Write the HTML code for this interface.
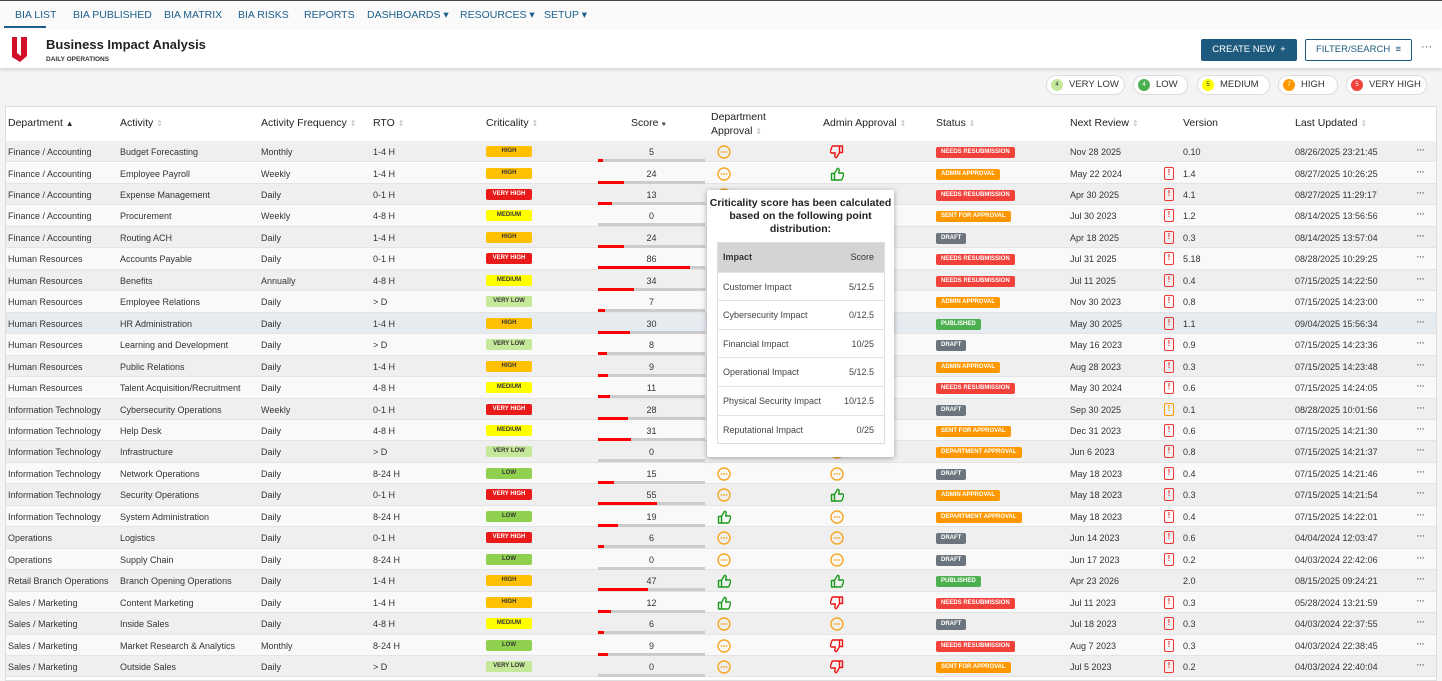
<!DOCTYPE html>
<html><head><meta charset="utf-8"><style>
*{box-sizing:border-box;margin:0;padding:0}
body{width:1442px;height:681px;overflow:hidden;background:#f4f4f4;font-family:"Liberation Sans",sans-serif;color:#333;position:relative}
.a{position:absolute;white-space:nowrap}
.nav{position:absolute;left:0;top:0;width:1442px;height:29px;background:#fafafa;border-top:1px solid #444}
.nav span{position:absolute;top:8px;font-size:10.5px;color:#1d5f8c}
.hdr{position:absolute;left:0;top:29px;width:1442px;height:39px;background:#fff;box-shadow:0 2px 3px rgba(0,0,0,.12)}
.pill{position:absolute;top:75px;height:20px;border:1px solid #ddd;border-radius:10px;background:#fff;font-size:9.5px;color:#333;line-height:18px}
.pill i{position:absolute;left:4px;top:3px;width:12px;height:12px;border-radius:6px;font-style:normal;font-size:6px;line-height:12px;text-align:center;color:#333}
.pill b{position:absolute;left:22px;font-weight:normal}
.tbl{position:absolute;left:5px;top:106px;width:1432px;height:575px;background:#fff;border:1px solid #ddd}
.th{position:absolute;top:117px;font-size:10.5px;color:#222}
.th s{text-decoration:none;color:#bbb;font-size:8px}
.r{position:absolute;left:6px;width:1430px;height:21.46px;font-size:9px;color:#333;border-bottom:1px solid #e4e4e4}
.r.o{background:#efefef}.r.e{background:#f9f9f9}.r.h{background:#e6ebf0}
.r div{position:absolute;top:6px;white-space:nowrap}
.c1{left:2px}.c2{left:114px}.c3{left:255px}.c4{left:367px}
.cr{left:480px;width:46px;height:11px;top:5px!important;border-radius:2px;font-size:6px;text-align:center;line-height:11px;font-weight:bold}
.HI{background:#ffc000;color:#333}.VH{background:#e81a1a;color:#fff}.ME{background:#ffff00;color:#333}.VL{background:#c6e89a;color:#333}.LO{background:#8fd14f;color:#333}
.sc{left:592px;width:107px;text-align:center}
.tr{left:592px;top:18px!important;width:107px;height:3px;background:#ccc}
.tr span{position:absolute;left:0;top:0;height:3px;background:#f00}
.st{left:930px;height:11px;top:6px!important;border-radius:2px;font-size:6px;line-height:11px;color:#fff;padding:0 5px;font-weight:bold}
.NR{background:#f0413a}.AA{background:#ff9800}.DR{background:#6c757d}.PU{background:#4caf50}
.nx{left:1064px}.vr{left:1177px}.lu{left:1289px}
.wi{left:1158px;top:4px!important;width:10px;height:13px;border:1.5px solid #e33;border-radius:2px;color:#e33;font-size:8px;line-height:10px;text-align:center;font-weight:bold}
.wi.or{border-color:#f90;color:#f90}
.dt{left:1410px;top:3px!important;font-size:11px;color:#444;letter-spacing:-1px}
.pe,.up,.dn{top:4px!important;width:14px;height:14px}
.d1{left:711px}.d2{left:824px}
.tip{position:absolute;left:707px;top:190px;width:187px;height:267px;background:#fff;box-shadow:0 1px 6px rgba(0,0,0,.35);border-radius:2px}
.tip h4{font-size:10.5px;text-align:center;margin-top:7px;line-height:13px;color:#222}
.tt{position:absolute;left:10px;top:52px;width:168px;border:1px solid #ddd}
.tt div{height:28.6px;border-top:1px solid #e2e2e2;font-size:9px;color:#444;position:relative;line-height:28px;padding-left:5px}
.tt div b{position:absolute;right:10px;font-weight:normal}
.tt .hd{background:#d4d4d4;border:none;font-weight:bold;color:#333}
</style></head><body>
<svg width="0" height="0" style="position:absolute"><defs>
<g id="pe"><circle cx="7" cy="7" r="6" fill="none" stroke="#f5a623" stroke-width="1.4"/><circle cx="4.5" cy="7" r=".9" fill="#f5a623"/><circle cx="7" cy="7" r=".9" fill="#f5a623"/><circle cx="9.5" cy="7" r=".9" fill="#f5a623"/></g>
<path id="th" d="M1.5 6.5h3v6.5h-3z M4.5 6.5l3-5.2c1.2 0 1.9 1 1.6 2.4L8.7 6h3.6c1 0 1.6.9 1.3 1.8l-1.5 4.4c-.2.5-.6.8-1.1.8H4.5" fill="none" stroke-width="1.4" stroke-linejoin="round"/>
</defs></svg>
<div class="nav">
<span style="left:15px">BIA LIST</span><span style="left:73px">BIA PUBLISHED</span><span style="left:164px">BIA MATRIX</span><span style="left:238px">BIA RISKS</span><span style="left:304px">REPORTS</span><span style="left:367px">DASHBOARDS ▾</span><span style="left:460px">RESOURCES ▾</span><span style="left:544px">SETUP ▾</span>
<div class="a" style="left:4px;top:25px;width:42px;height:2px;background:#1d5f8c"></div>
</div>
<div class="hdr">
<svg class="a" style="left:11px;top:7px" width="18" height="27" viewBox="0 0 18 27"><path d="M1 1h5v16l4 3V1h6v19l-7 6-8-5z" fill="#d2102a"/></svg>
<div class="a" style="left:46px;top:8px;font-size:13px;font-weight:bold;color:#222">Business Impact Analysis</div>
<div class="a" style="left:46px;top:27px;font-size:6.5px;font-weight:bold;color:#333">DAILY OPERATIONS</div>
<div class="a" style="left:1201px;top:10px;width:96px;height:22px;background:#1e5a7e;border-radius:2px;color:#fff;font-size:9.5px;line-height:22px;text-align:center">CREATE NEW &nbsp;+</div>
<div class="a" style="left:1305px;top:10px;width:107px;height:22px;border:1px solid #1e5a7e;border-radius:2px;color:#1e5a7e;font-size:9.5px;line-height:20px;text-align:center;background:#fff">FILTER/SEARCH &nbsp;≡</div>
<div class="a" style="left:1421px;top:12px;font-size:11px;color:#444">···</div>
</div>
<div class="pill" style="left:1046px;width:79px"><i style="background:#c6e89a">4</i><b>VERY LOW</b></div>
<div class="pill" style="left:1133px;width:55px"><i style="background:#4caf50;color:#fff">4</i><b>LOW</b></div>
<div class="pill" style="left:1197px;width:73px"><i style="background:#ffff00">5</i><b>MEDIUM</b></div>
<div class="pill" style="left:1278px;width:60px"><i style="background:#ff9800;color:#fff">7</i><b>HIGH</b></div>
<div class="pill" style="left:1346px;width:81px"><i style="background:#f0413a;color:#fff">5</i><b>VERY HIGH</b></div>
<div class="tbl"></div>
<div class="th" style="left:8px">Department <s style="color:#333">▲</s></div>
<div class="th" style="left:120px">Activity <s>⇕</s></div>
<div class="th" style="left:261px">Activity Frequency <s>⇕</s></div>
<div class="th" style="left:373px">RTO <s>⇕</s></div>
<div class="th" style="left:486px">Criticality <s>⇕</s></div>
<div class="th" style="left:631px">Score <s style="color:#666">●</s></div>
<div class="th" style="left:711px;top:110px;line-height:14px">Department<br>Approval <s>⇕</s></div>
<div class="th" style="left:823px">Admin Approval <s>⇕</s></div>
<div class="th" style="left:936px">Status <s>⇕</s></div>
<div class="th" style="left:1070px">Next Review <s>⇕</s></div>
<div class="th" style="left:1183px">Version</div>
<div class="th" style="left:1295px">Last Updated <s>⇕</s></div>

<div class="r o" style="top:141px"><div class="c1">Finance / Accounting</div><div class="c2">Budget Forecasting</div><div class="c3">Monthly</div><div class="c4">1-4 H</div><div class="cr HI">HIGH</div><div class="sc">5</div><div class="tr"><span style="width:5px"></span></div><div class="pe d1"><svg width="14" height="14"><use href="#pe"/></svg></div><div class="dn d2"><svg width="14" height="14" style="transform:rotate(180deg)"><use href="#th" stroke="#e11"/></svg></div><div class="st NR">NEEDS RESUBMISSION</div><div class="nx">Nov 28 2025</div><div class="vr">0.10</div><div class="lu">08/26/2025 23:21:45</div><div class="dt">···</div></div>
<div class="r e" style="top:162.5px"><div class="c1">Finance / Accounting</div><div class="c2">Employee Payroll</div><div class="c3">Weekly</div><div class="c4">1-4 H</div><div class="cr HI">HIGH</div><div class="sc">24</div><div class="tr"><span style="width:26px"></span></div><div class="pe d1"><svg width="14" height="14"><use href="#pe"/></svg></div><div class="up d2"><svg width="14" height="14"><use href="#th" stroke="#1a9a1a"/></svg></div><div class="st AA">ADMIN APPROVAL</div><div class="nx">May 22 2024</div><div class="wi">!</div><div class="vr">1.4</div><div class="lu">08/27/2025 10:26:25</div><div class="dt">···</div></div>
<div class="r o" style="top:183.9px"><div class="c1">Finance / Accounting</div><div class="c2">Expense Management</div><div class="c3">Daily</div><div class="c4">0-1 H</div><div class="cr VH">VERY HIGH</div><div class="sc">13</div><div class="tr"><span style="width:14px"></span></div><div class="pe d1"><svg width="14" height="14"><use href="#pe"/></svg></div><div class="st NR">NEEDS RESUBMISSION</div><div class="nx">Apr 30 2025</div><div class="wi">!</div><div class="vr">4.1</div><div class="lu">08/27/2025 11:29:17</div><div class="dt">···</div></div>
<div class="r e" style="top:205.4px"><div class="c1">Finance / Accounting</div><div class="c2">Procurement</div><div class="c3">Weekly</div><div class="c4">4-8 H</div><div class="cr ME">MEDIUM</div><div class="sc">0</div><div class="tr"></div><div class="st AA">SENT FOR APPROVAL</div><div class="nx">Jul 30 2023</div><div class="wi">!</div><div class="vr">1.2</div><div class="lu">08/14/2025 13:56:56</div><div class="dt">···</div></div>
<div class="r o" style="top:226.8px"><div class="c1">Finance / Accounting</div><div class="c2">Routing ACH</div><div class="c3">Daily</div><div class="c4">1-4 H</div><div class="cr HI">HIGH</div><div class="sc">24</div><div class="tr"><span style="width:26px"></span></div><div class="st DR">DRAFT</div><div class="nx">Apr 18 2025</div><div class="wi">!</div><div class="vr">0.3</div><div class="lu">08/14/2025 13:57:04</div><div class="dt">···</div></div>
<div class="r e" style="top:248.3px"><div class="c1">Human Resources</div><div class="c2">Accounts Payable</div><div class="c3">Daily</div><div class="c4">0-1 H</div><div class="cr VH">VERY HIGH</div><div class="sc">86</div><div class="tr"><span style="width:92px"></span></div><div class="st NR">NEEDS RESUBMISSION</div><div class="nx">Jul 31 2025</div><div class="wi">!</div><div class="vr">5.18</div><div class="lu">08/28/2025 10:29:25</div><div class="dt">···</div></div>
<div class="r o" style="top:269.8px"><div class="c1">Human Resources</div><div class="c2">Benefits</div><div class="c3">Annually</div><div class="c4">4-8 H</div><div class="cr ME">MEDIUM</div><div class="sc">34</div><div class="tr"><span style="width:36px"></span></div><div class="st NR">NEEDS RESUBMISSION</div><div class="nx">Jul 11 2025</div><div class="wi">!</div><div class="vr">0.4</div><div class="lu">07/15/2025 14:22:50</div><div class="dt">···</div></div>
<div class="r e" style="top:291.2px"><div class="c1">Human Resources</div><div class="c2">Employee Relations</div><div class="c3">Daily</div><div class="c4">&gt; D</div><div class="cr VL">VERY LOW</div><div class="sc">7</div><div class="tr"><span style="width:7px"></span></div><div class="st AA">ADMIN APPROVAL</div><div class="nx">Nov 30 2023</div><div class="wi">!</div><div class="vr">0.8</div><div class="lu">07/15/2025 14:23:00</div><div class="dt">···</div></div>
<div class="r h" style="top:312.7px"><div class="c1">Human Resources</div><div class="c2">HR Administration</div><div class="c3">Daily</div><div class="c4">1-4 H</div><div class="cr HI">HIGH</div><div class="sc">30</div><div class="tr"><span style="width:32px"></span></div><div class="st PU">PUBLISHED</div><div class="nx">May 30 2025</div><div class="wi">!</div><div class="vr">1.1</div><div class="lu">09/04/2025 15:56:34</div><div class="dt">···</div></div>
<div class="r e" style="top:334.1px"><div class="c1">Human Resources</div><div class="c2">Learning and Development</div><div class="c3">Daily</div><div class="c4">&gt; D</div><div class="cr VL">VERY LOW</div><div class="sc">8</div><div class="tr"><span style="width:9px"></span></div><div class="st DR">DRAFT</div><div class="nx">May 16 2023</div><div class="wi">!</div><div class="vr">0.9</div><div class="lu">07/15/2025 14:23:36</div><div class="dt">···</div></div>
<div class="r o" style="top:355.6px"><div class="c1">Human Resources</div><div class="c2">Public Relations</div><div class="c3">Daily</div><div class="c4">1-4 H</div><div class="cr HI">HIGH</div><div class="sc">9</div><div class="tr"><span style="width:10px"></span></div><div class="st AA">ADMIN APPROVAL</div><div class="nx">Aug 28 2023</div><div class="wi">!</div><div class="vr">0.3</div><div class="lu">07/15/2025 14:23:48</div><div class="dt">···</div></div>
<div class="r e" style="top:377.1px"><div class="c1">Human Resources</div><div class="c2">Talent Acquisition/Recruitment</div><div class="c3">Daily</div><div class="c4">4-8 H</div><div class="cr ME">MEDIUM</div><div class="sc">11</div><div class="tr"><span style="width:12px"></span></div><div class="st NR">NEEDS RESUBMISSION</div><div class="nx">May 30 2024</div><div class="wi">!</div><div class="vr">0.6</div><div class="lu">07/15/2025 14:24:05</div><div class="dt">···</div></div>
<div class="r o" style="top:398.5px"><div class="c1">Information Technology</div><div class="c2">Cybersecurity Operations</div><div class="c3">Weekly</div><div class="c4">0-1 H</div><div class="cr VH">VERY HIGH</div><div class="sc">28</div><div class="tr"><span style="width:30px"></span></div><div class="st DR">DRAFT</div><div class="nx">Sep 30 2025</div><div class="wi or">!</div><div class="vr">0.1</div><div class="lu">08/28/2025 10:01:56</div><div class="dt">···</div></div>
<div class="r e" style="top:420px"><div class="c1">Information Technology</div><div class="c2">Help Desk</div><div class="c3">Daily</div><div class="c4">4-8 H</div><div class="cr ME">MEDIUM</div><div class="sc">31</div><div class="tr"><span style="width:33px"></span></div><div class="st AA">SENT FOR APPROVAL</div><div class="nx">Dec 31 2023</div><div class="wi">!</div><div class="vr">0.6</div><div class="lu">07/15/2025 14:21:30</div><div class="dt">···</div></div>
<div class="r o" style="top:441.4px"><div class="c1">Information Technology</div><div class="c2">Infrastructure</div><div class="c3">Daily</div><div class="c4">&gt; D</div><div class="cr VL">VERY LOW</div><div class="sc">0</div><div class="tr"></div><div class="pe d2"><svg width="14" height="14"><use href="#pe"/></svg></div><div class="st AA">DEPARTMENT APPROVAL</div><div class="nx">Jun 6 2023</div><div class="wi">!</div><div class="vr">0.8</div><div class="lu">07/15/2025 14:21:37</div><div class="dt">···</div></div>
<div class="r e" style="top:462.9px"><div class="c1">Information Technology</div><div class="c2">Network Operations</div><div class="c3">Daily</div><div class="c4">8-24 H</div><div class="cr LO">LOW</div><div class="sc">15</div><div class="tr"><span style="width:16px"></span></div><div class="pe d1"><svg width="14" height="14"><use href="#pe"/></svg></div><div class="pe d2"><svg width="14" height="14"><use href="#pe"/></svg></div><div class="st DR">DRAFT</div><div class="nx">May 18 2023</div><div class="wi">!</div><div class="vr">0.4</div><div class="lu">07/15/2025 14:21:46</div><div class="dt">···</div></div>
<div class="r o" style="top:484.4px"><div class="c1">Information Technology</div><div class="c2">Security Operations</div><div class="c3">Daily</div><div class="c4">0-1 H</div><div class="cr VH">VERY HIGH</div><div class="sc">55</div><div class="tr"><span style="width:59px"></span></div><div class="pe d1"><svg width="14" height="14"><use href="#pe"/></svg></div><div class="up d2"><svg width="14" height="14"><use href="#th" stroke="#1a9a1a"/></svg></div><div class="st AA">ADMIN APPROVAL</div><div class="nx">May 18 2023</div><div class="wi">!</div><div class="vr">0.3</div><div class="lu">07/15/2025 14:21:54</div><div class="dt">···</div></div>
<div class="r e" style="top:505.8px"><div class="c1">Information Technology</div><div class="c2">System Administration</div><div class="c3">Daily</div><div class="c4">8-24 H</div><div class="cr LO">LOW</div><div class="sc">19</div><div class="tr"><span style="width:20px"></span></div><div class="up d1"><svg width="14" height="14"><use href="#th" stroke="#1a9a1a"/></svg></div><div class="pe d2"><svg width="14" height="14"><use href="#pe"/></svg></div><div class="st AA">DEPARTMENT APPROVAL</div><div class="nx">May 18 2023</div><div class="wi">!</div><div class="vr">0.4</div><div class="lu">07/15/2025 14:22:01</div><div class="dt">···</div></div>
<div class="r o" style="top:527.3px"><div class="c1">Operations</div><div class="c2">Logistics</div><div class="c3">Daily</div><div class="c4">0-1 H</div><div class="cr VH">VERY HIGH</div><div class="sc">6</div><div class="tr"><span style="width:6px"></span></div><div class="pe d1"><svg width="14" height="14"><use href="#pe"/></svg></div><div class="pe d2"><svg width="14" height="14"><use href="#pe"/></svg></div><div class="st DR">DRAFT</div><div class="nx">Jun 14 2023</div><div class="wi">!</div><div class="vr">0.6</div><div class="lu">04/04/2024 12:03:47</div><div class="dt">···</div></div>
<div class="r e" style="top:548.7px"><div class="c1">Operations</div><div class="c2">Supply Chain</div><div class="c3">Daily</div><div class="c4">8-24 H</div><div class="cr LO">LOW</div><div class="sc">0</div><div class="tr"></div><div class="pe d1"><svg width="14" height="14"><use href="#pe"/></svg></div><div class="pe d2"><svg width="14" height="14"><use href="#pe"/></svg></div><div class="st DR">DRAFT</div><div class="nx">Jun 17 2023</div><div class="wi">!</div><div class="vr">0.2</div><div class="lu">04/03/2024 22:42:06</div><div class="dt">···</div></div>
<div class="r o" style="top:570.2px"><div class="c1">Retail Branch Operations</div><div class="c2">Branch Opening Operations</div><div class="c3">Daily</div><div class="c4">1-4 H</div><div class="cr HI">HIGH</div><div class="sc">47</div><div class="tr"><span style="width:50px"></span></div><div class="up d1"><svg width="14" height="14"><use href="#th" stroke="#1a9a1a"/></svg></div><div class="up d2"><svg width="14" height="14"><use href="#th" stroke="#1a9a1a"/></svg></div><div class="st PU">PUBLISHED</div><div class="nx">Apr 23 2026</div><div class="vr">2.0</div><div class="lu">08/15/2025 09:24:21</div><div class="dt">···</div></div>
<div class="r e" style="top:591.7px"><div class="c1">Sales / Marketing</div><div class="c2">Content Marketing</div><div class="c3">Daily</div><div class="c4">1-4 H</div><div class="cr HI">HIGH</div><div class="sc">12</div><div class="tr"><span style="width:13px"></span></div><div class="up d1"><svg width="14" height="14"><use href="#th" stroke="#1a9a1a"/></svg></div><div class="dn d2"><svg width="14" height="14" style="transform:rotate(180deg)"><use href="#th" stroke="#e11"/></svg></div><div class="st NR">NEEDS RESUBMISSION</div><div class="nx">Jul 11 2023</div><div class="wi">!</div><div class="vr">0.3</div><div class="lu">05/28/2024 13:21:59</div><div class="dt">···</div></div>
<div class="r o" style="top:613.1px"><div class="c1">Sales / Marketing</div><div class="c2">Inside Sales</div><div class="c3">Daily</div><div class="c4">4-8 H</div><div class="cr ME">MEDIUM</div><div class="sc">6</div><div class="tr"><span style="width:6px"></span></div><div class="pe d1"><svg width="14" height="14"><use href="#pe"/></svg></div><div class="pe d2"><svg width="14" height="14"><use href="#pe"/></svg></div><div class="st DR">DRAFT</div><div class="nx">Jul 18 2023</div><div class="wi">!</div><div class="vr">0.3</div><div class="lu">04/03/2024 22:37:55</div><div class="dt">···</div></div>
<div class="r e" style="top:634.6px"><div class="c1">Sales / Marketing</div><div class="c2">Market Research &amp; Analytics</div><div class="c3">Monthly</div><div class="c4">8-24 H</div><div class="cr LO">LOW</div><div class="sc">9</div><div class="tr"><span style="width:10px"></span></div><div class="pe d1"><svg width="14" height="14"><use href="#pe"/></svg></div><div class="dn d2"><svg width="14" height="14" style="transform:rotate(180deg)"><use href="#th" stroke="#e11"/></svg></div><div class="st NR">NEEDS RESUBMISSION</div><div class="nx">Aug 7 2023</div><div class="wi">!</div><div class="vr">0.3</div><div class="lu">04/03/2024 22:38:45</div><div class="dt">···</div></div>
<div class="r o" style="top:656px"><div class="c1">Sales / Marketing</div><div class="c2">Outside Sales</div><div class="c3">Daily</div><div class="c4">&gt; D</div><div class="cr VL">VERY LOW</div><div class="sc">0</div><div class="tr"></div><div class="pe d1"><svg width="14" height="14"><use href="#pe"/></svg></div><div class="dn d2"><svg width="14" height="14" style="transform:rotate(180deg)"><use href="#th" stroke="#e11"/></svg></div><div class="st AA">SENT FOR APPROVAL</div><div class="nx">Jul 5 2023</div><div class="wi">!</div><div class="vr">0.2</div><div class="lu">04/03/2024 22:40:04</div><div class="dt">···</div></div>

<div class="tip">
<h4>Criticality score has been calculated<br>based on the following point<br>distribution:</h4>
<div class="tt">
<div class="hd">Impact<b>Score</b></div>
<div>Customer Impact<b>5/12.5</b></div>
<div>Cybersecurity Impact<b>0/12.5</b></div>
<div>Financial Impact<b>10/25</b></div>
<div>Operational Impact<b>5/12.5</b></div>
<div>Physical Security Impact<b>10/12.5</b></div>
<div>Reputational Impact<b>0/25</b></div>
</div>
</div>
</body></html>
